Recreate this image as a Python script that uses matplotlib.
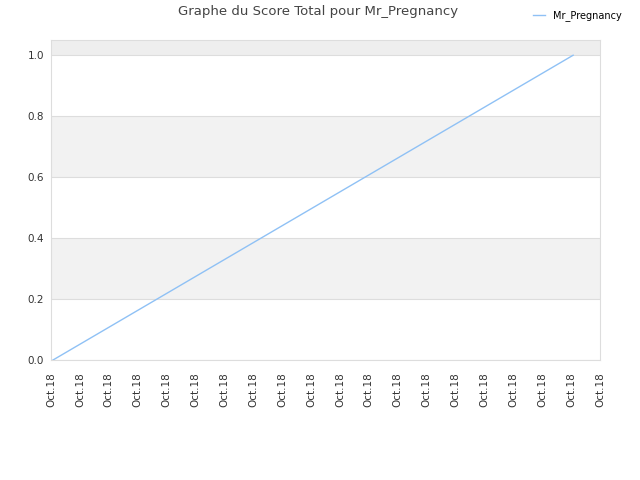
import matplotlib
matplotlib.use("Agg")
import matplotlib.pyplot as plt

# data
x_vals = [0.07, 18.07]
scores = [0.0, 1.0]
series_name = "Mr_Pregnancy"
tick_positions = list(range(20))
tick_labels = ["Oct.18"] * 20
band_edges = [(0.2, 0.4), (0.6, 0.8), (1.0, 1.2)]

fig = plt.figure(figsize=(6.4, 4.8), dpi=100)
ax = fig.add_axes([51/640, 1 - 360/480, (600-51)/640, (360-40)/480])

for lo, hi in band_edges:
    ax.axhspan(lo, hi, color="#f2f2f2" if hi < 1.1 else "#eeeeee", zorder=0, lw=0)

ax.plot(x_vals, scores, color="#8fc1f5", lw=1, label=series_name, zorder=3)

ax.set_xlim(0, 19)
ax.set_ylim(0, 1.05)
ax.set_yticks([0.0, 0.2, 0.4, 0.6, 0.8, 1.0])
ax.set_yticklabels(["0.0", "0.2", "0.4", "0.6", "0.8", "1.0"])
ax.set_xticks(tick_positions)
ax.set_xticklabels(tick_labels, rotation=90)
ax.tick_params(axis="both", length=0, labelsize=7.5, colors="#333333")
ax.tick_params(axis="x", pad=9)
ax.tick_params(axis="y", pad=5)
ax.yaxis.grid(True, color="#dddddd", lw=0.8, zorder=1)
ax.set_axisbelow(True)
for s in ax.spines.values():
    s.set_color("#dddddd")

fig.text(0.497, 1 - 12/480, "Graphe du Score Total pour Mr_Pregnancy", ha="center", va="center",
         fontsize=9.5, color="#444444")
fig.legend(loc="upper right", bbox_to_anchor=(0.985, 0.997), frameon=False, fontsize=7,
           handlelength=1.2, handletextpad=0.8)

fig.savefig("out.png", dpi=100)
